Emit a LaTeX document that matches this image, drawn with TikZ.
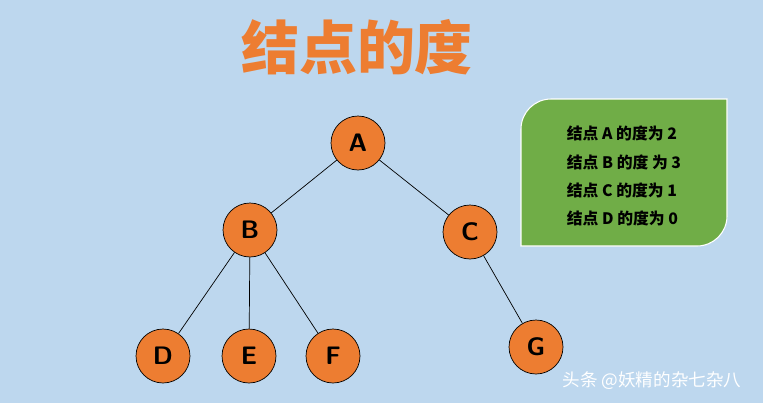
\documentclass[tikz,border=0pt]{standalone}
\usepackage{fontspec}
\newfontfamily\cjk{Noto Sans CJK SC}
\usetikzlibrary{positioning}
\definecolor{bgblue}{RGB}{189,215,238}
\definecolor{nodeorange}{RGB}{237,125,49}
\definecolor{boxgreen}{RGB}{112,173,71}
\tikzset{
  treenode/.style={circle, draw=black, fill=nodeorange, minimum size=1.08cm, inner sep=0pt, font=\sffamily\bfseries\Large},
  edge/.style={draw=black, thin}
}
\begin{document}
\begin{tikzpicture}[x=0.02cm, y=-0.02cm]
\fill[bgblue] (0,0) rectangle (763,403);
\useasboundingbox (0,0) rectangle (763,403);
% title
\node (title) at (357,47) {\cjk\fontsize{33}{33}\selectfont\bfseries\color{nodeorange}结点的度};
% tree
\node[treenode] (A) at (358,143) {A};
\node[treenode] (B) at (250,230) {B};
\node[treenode] (C) at (470,232) {C};
\node[treenode] (D) at (163,356) {D};
\node[treenode] (E) at (249,356) {E};
\node[treenode] (F) at (333,356) {F};
\node[treenode] (G) at (536,347) {G};
\draw[edge] (A) -- (B);
\draw[edge] (A) -- (C);
\draw[edge] (B) -- (D);
\draw[edge] (B) -- (E);
\draw[edge] (B) -- (F);
\draw[edge] (C) -- (G);
% degree box
\path[fill=boxgreen, draw=white, line width=0.6pt] (521,246) -- (521,129) arc[start angle=180, end angle=270, radius=30] -- (727,99) -- (727,216) arc[start angle=0, end angle=90, radius=30] -- cycle;
\node[font=\cjk\bfseries\small, align=left] (info) at (624,176) {%
结点 A 的度为 2\\[5pt]结点 B 的度 为 3\\[5pt]结点 C 的度为 1\\[5pt]结点 D 的度为 0};
% watermark
\node[font=\cjk\normalsize, text=white] (mark) at (652,381) {头条 @妖精的杂七杂八};
\end{tikzpicture}
\end{document}
